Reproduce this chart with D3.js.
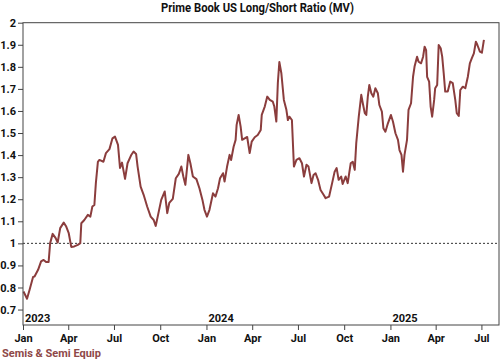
<!DOCTYPE html>
<html><head><meta charset="utf-8">
<script src="https://cdn.jsdelivr.net/npm/d3@7"></script>
<style>
html,body{margin:0;padding:0;background:#fff;}
svg{display:block;font-family:Roboto,"Liberation Sans",sans-serif;}
</style></head>
<body>
<svg id="c" width="500" height="361"></svg>
<script>
const title = "Prime Book US Long/Short Ratio (MV)";
const seriesName = "Semis & Semi Equip";
const dates = ["2023-01-02","2023-01-09","2023-01-14","2023-01-21","2023-01-24","2023-01-31","2023-02-06","2023-02-11","2023-02-16","2023-02-21","2023-02-24","2023-03-01","2023-03-07","2023-03-11","2023-03-16","2023-03-23","2023-03-28","2023-04-02","2023-04-07","2023-04-13","2023-04-20","2023-04-25","2023-04-27","2023-05-03","2023-05-10","2023-05-15","2023-05-19","2023-05-23","2023-05-26","2023-05-30","2023-06-02","2023-06-10","2023-06-15","2023-06-22","2023-06-28","2023-07-03","2023-07-09","2023-07-13","2023-07-17","2023-07-23","2023-07-28","2023-08-04","2023-08-09","2023-08-14","2023-08-17","2023-08-23","2023-08-29","2023-09-05","2023-09-12","2023-09-18","2023-09-22","2023-09-26","2023-10-03","2023-10-10","2023-10-15","2023-10-19","2023-10-26","2023-11-01","2023-11-07","2023-11-12","2023-11-16","2023-11-20","2023-11-26","2023-11-30","2023-12-05","2023-12-12","2023-12-18","2023-12-24","2023-12-28","2024-01-02","2024-01-07","2024-01-14","2024-01-19","2024-01-24","2024-01-28","2024-02-03","2024-02-06","2024-02-11","2024-02-16","2024-02-19","2024-02-24","2024-02-28","2024-03-01","2024-03-05","2024-03-09","2024-03-12","2024-03-17","2024-03-22","2024-03-27","2024-03-31","2024-04-06","2024-04-12","2024-04-18","2024-04-20","2024-04-26","2024-05-01","2024-05-06","2024-05-12","2024-05-15","2024-05-19","2024-05-22","2024-05-25","2024-05-29","2024-06-03","2024-06-08","2024-06-11","2024-06-14","2024-06-19","2024-06-23","2024-06-28","2024-07-04","2024-07-09","2024-07-13","2024-07-18","2024-07-22","2024-07-28","2024-08-01","2024-08-05","2024-08-10","2024-08-15","2024-08-21","2024-08-25","2024-09-01","2024-09-07","2024-09-12","2024-09-16","2024-09-20","2024-09-25","2024-09-28","2024-10-04","2024-10-08","2024-10-14","2024-10-18","2024-10-22","2024-10-25","2024-10-30","2024-11-04","2024-11-07","2024-11-11","2024-11-14","2024-11-17","2024-11-20","2024-11-24","2024-11-28","2024-12-02","2024-12-07","2024-12-10","2024-12-15","2024-12-18","2024-12-22","2024-12-27","2025-01-02","2025-01-06","2025-01-11","2025-01-16","2025-01-19","2025-01-23","2025-01-26","2025-01-29","2025-02-03","2025-02-06","2025-02-11","2025-02-15","2025-02-18","2025-02-23","2025-02-26","2025-03-03","2025-03-07","2025-03-10","2025-03-13","2025-03-15","2025-03-19","2025-03-22","2025-03-25","2025-03-29","2025-03-31","2025-04-04","2025-04-07","2025-04-11","2025-04-14","2025-04-17","2025-04-20","2025-04-25","2025-04-30","2025-05-05","2025-05-10","2025-05-13","2025-05-17","2025-05-20","2025-05-25","2025-05-30","2025-06-04","2025-06-08","2025-06-12","2025-06-16","2025-06-20","2025-06-23","2025-06-28","2025-07-02","2025-07-06"];
const values = [0.782,0.749,0.789,0.848,0.850,0.880,0.918,0.925,0.915,0.916,1.001,1.043,1.024,1.004,1.069,1.094,1.076,1.046,0.984,0.986,0.993,1.001,1.091,1.106,1.129,1.121,1.167,1.174,1.274,1.369,1.378,1.370,1.409,1.427,1.476,1.484,1.446,1.342,1.366,1.292,1.363,1.399,1.416,1.405,1.348,1.257,1.220,1.167,1.121,1.106,1.079,1.121,1.197,1.235,1.137,1.183,1.202,1.295,1.315,1.348,1.303,1.265,1.401,1.363,1.303,1.291,1.250,1.197,1.152,1.121,1.152,1.227,1.212,1.250,1.295,1.318,1.280,1.348,1.401,1.378,1.438,1.469,1.537,1.582,1.529,1.469,1.476,1.482,1.409,1.461,1.481,1.491,1.514,1.582,1.620,1.665,1.650,1.642,1.620,1.552,1.726,1.822,1.771,1.650,1.605,1.559,1.574,1.559,1.348,1.378,1.386,1.363,1.303,1.356,1.348,1.273,1.310,1.318,1.288,1.242,1.220,1.205,1.212,1.273,1.325,1.341,1.288,1.303,1.269,1.303,1.273,1.363,1.370,1.333,1.454,1.574,1.673,1.635,1.590,1.582,1.665,1.718,1.680,1.665,1.703,1.680,1.627,1.597,1.522,1.506,1.544,1.582,1.552,1.499,1.469,1.423,1.401,1.325,1.401,1.469,1.605,1.635,1.755,1.801,1.846,1.823,1.816,1.846,1.891,1.876,1.755,1.733,1.620,1.574,1.650,1.703,1.718,1.899,1.884,1.846,1.771,1.688,1.688,1.733,1.726,1.650,1.590,1.577,1.695,1.710,1.703,1.755,1.816,1.839,1.861,1.914,1.899,1.869,1.864,1.922];
const yTicks = [0.7,0.8,0.9,1,1.1,1.2,1.3,1.4,1.5,1.6,1.7,1.8,1.9,2];
const yearLabels = ["2023","2024","2025"];
const refLine = 1;

const parse = d3.timeParse("%Y-%m-%d");
const data = dates.map((d,i)=>({date:parse(d), value:values[i]}));

const W=500,H=361;
const m={left:23,right:1,top:22.7,bottom:36};
const svg=d3.select("#c");
const x=d3.scaleTime().domain([parse("2023-01-01"),parse("2025-08-05")]).range([m.left,W-m.right]);
const y=d3.scaleLinear().domain([0.63,2]).range([H-m.bottom,m.top]);
const axisColor="#444";
const lineColor="#8b3d3d";

// title
svg.append("text").attr("x",257.5).attr("y",12).attr("text-anchor","middle")
  .attr("font-weight","bold").attr("font-size",12).attr("fill","#111")
  .attr("textLength",193).attr("lengthAdjust","spacingAndGlyphs").text(title);

// reference line
svg.append("line").attr("x1",m.left).attr("x2",W-m.right).attr("y1",y(refLine)).attr("y2",y(refLine))
  .attr("stroke","#333").attr("stroke-width",1).attr("stroke-dasharray","2,2");

// line
svg.append("path").datum(data).attr("fill","none").attr("stroke",lineColor).attr("stroke-width",2)
  .attr("stroke-linejoin","round")
  .attr("d",d3.line().x(d=>x(d.date)).y(d=>y(d.value)));

// frame
svg.append("rect").attr("x",m.left).attr("y",m.top).attr("width",W-m.right-m.left).attr("height",H-m.bottom-m.top)
  .attr("fill","none").attr("stroke",axisColor).attr("stroke-width",1);

// y axis
const ya=svg.append("g").attr("transform",`translate(${m.left},0)`)
  .call(d3.axisLeft(y).tickValues(yTicks).tickSize(5).tickPadding(2).tickFormat(d=>String(+d.toFixed(1))));
ya.select(".domain").remove();
ya.selectAll("line").attr("stroke",axisColor);
ya.selectAll("text").attr("font-family","Roboto").attr("font-weight","bold").attr("font-size",11).attr("fill","#111");

// x axis
const xTicks=d3.timeMonth.every(3).range(parse("2023-01-01"),parse("2025-08-05"));
const xa=svg.append("g").attr("transform",`translate(0,${H-m.bottom})`)
  .call(d3.axisBottom(x).tickValues(xTicks).tickSize(5).tickPadding(4).tickFormat(d3.timeFormat("%b")));
xa.select(".domain").remove();
xa.selectAll("line").attr("stroke",axisColor);
xa.selectAll("text").attr("font-family","Roboto").attr("font-weight","bold").attr("font-size",11).attr("fill","#111");

// year labels inside plot
const jans=xTicks.filter(d=>d.getMonth()===0);
svg.append("g").selectAll("text").data(jans).join("text")
  .attr("x",d=>x(d)+2).attr("y",H-m.bottom-3)
  .attr("font-weight","bold").attr("font-size",11).attr("fill","#111")
  .text((d,i)=>yearLabels[i]);

// legend
svg.append("text").attr("x",2).attr("y",357).attr("font-weight","bold").attr("font-size",11)
  .attr("fill","#8e4848").text(seriesName);
</script>
</body></html>
